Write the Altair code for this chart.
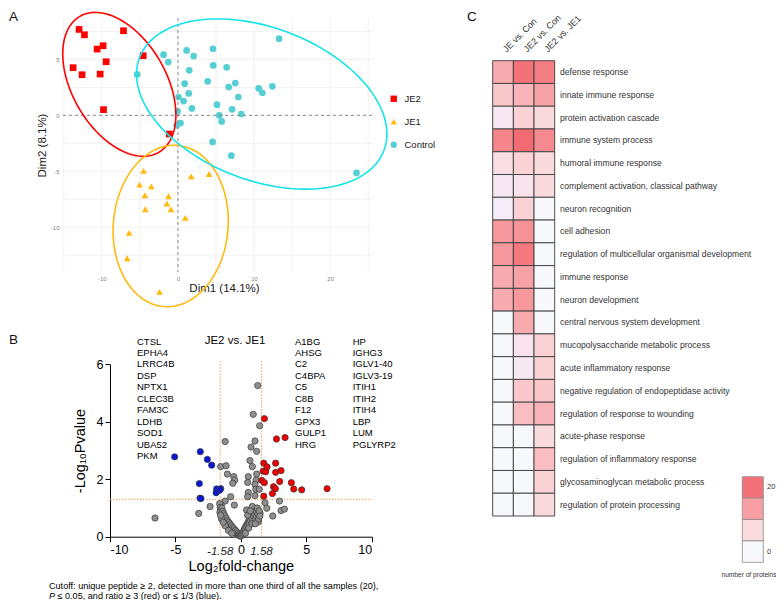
import numpy as np
import pandas as pd
import altair as alt

FONT = "Liberation Sans"

# ---------------- Panel A : PCA scores ----------------
groups = ["JE2", "JE1", "Control"]
group_colors = ["#FF0000", "#FFB90F", "#55CFD4"]
ellipse_colors = ["#FF0000", "#FFB90F", "#14E3EA"]
group_shapes = ["square", "triangle-up", "circle"]

je2_x = [-12.99, -12.28, -7.15, -10.62, -9.83, -9.43, -13.77, -12.59, -10.22, -4.56, -9.78, -1.14]
je2_y = [7.68, 7.20, 7.56, 5.92, 6.22, 4.79, 4.26, 3.63, 3.69, 5.33, 0.51, -1.67]

je1_x = [-4.51, -5.04, -3.51, -4.34, -1.23, -1.45, -0.92, -4.30, 1.75, 4.08, 0.96, -6.41, -6.67, -2.41]
je1_y = [-4.97, -6.19, -6.34, -7.14, -7.23, -7.88, -8.39, -8.39, -5.45, -5.24, -9.17, -10.51, -12.77, -15.77]

con_x = [13.29, -1.89, -1.27, 1.14, 2.07, 4.61, 1.49, 4.65, 6.40, -5.35, 0.88, 3.91, 6.67, 7.54,
         10.61, 11.10, 12.41, 1.41, 0.09, 0.75, 7.94, 5.13, 1.84, 7.11, 8.33, -0.04, 5.43, 5.75,
         0.35, -0.17, 4.56, 7.02, 23.46]
con_y = [6.85, 5.42, 4.76, 5.80, 5.30, 5.95, 4.02, 4.46, 4.29, 3.66, 2.83, 3.04, 2.53, 2.89,
         2.41, 2.02, 2.59, 1.96, 1.64, 1.28, 1.64, 0.95, 0.62, 0.54, 0.12, 0.36, 0.00, -0.54,
         -0.69, -0.89, -2.38, -3.60, -5.15]

# concentration ellipses: centre and two conjugate half-axes (data units)
ell_cx = [-7.70, -0.95, 11.01]
ell_cy = [2.77, -9.89, 1.01]
ell_ux = [5.17, 0.93, 16.05]
ell_uy = [-6.08, 7.20, -4.16]
ell_vx = [-5.34, 7.51, -3.59]
ell_vy = [-2.09, -0.45, -6.37]

gridA_x = [-15, -10, -5, 0, 5, 10, 15, 20, 25]
gridA_y = [-12.5, -10, -7.5, -5, -2.5, 0, 2.5, 5, 7.5]

# ---------------- Panel B : volcano ----------------
down_x = [-5.06, -3.10, -2.56, -2.23, -3.17, -3.12, -3.05, -1.85, -1.54, -1.89, -1.62]
down_y = [2.78, 2.96, 2.69, 2.49, 1.85, 1.34, 1.33, 1.66, 1.67, 1.53, 1.62]

up_x = [1.80, 2.72, 3.38, 1.75, 2.00, 2.66, 1.70, 1.90, 2.66, 3.07, 1.60, 1.80, 2.97, 3.86,
        2.49, 2.64, 4.04, 4.65, 6.59, 2.41, 1.75]
up_y = [4.11, 3.40, 3.45, 2.56, 2.43, 2.56, 2.28, 2.26, 2.24, 2.30, 1.96, 1.88, 1.92, 1.88,
        1.74, 1.67, 1.66, 1.63, 1.67, 1.50, 1.41]

ns_x = [-6.56, -3.22, -2.35, -1.20, -1.54, -1.13, -1.03, -0.54, -0.47, -0.62, -0.78, -1.20,
        -0.50, -1.50, 1.29, 0.95, 1.44, 0.78, 1.08, 1.21, 0.70, 0.88, 1.21, 0.57, 0.52, 1.16,
        1.08, 1.14, 1.41, 0.57, 1.08, 0.52, 1.85, 1.98, 2.44, 2.95, 3.07, 3.33, 0.44, 0.88,
        1.47, 1.34,
        -1.62, -1.58, -1.52, -1.60, -1.45, -1.42, -1.38, -1.35, -1.30, -1.25, -1.22, -1.18,
        -1.12, -1.08, -1.02, -0.98, -0.92, -0.88, -0.82, -0.78, -0.72, -0.68, -0.62, -0.58,
        -0.52, -0.48, -0.42, -0.38, -0.32, -0.28, -0.22, -0.18, -0.12, -0.08, -0.04, -1.48,
        -1.20, -0.95, -0.70, -1.55, -1.35,
        0.04, 0.10, 0.16, 0.20, 0.26, 0.30, 0.35, 0.40, 0.45, 0.50, 0.55, 0.60, 0.65, 0.70,
        0.75, 0.80, 0.85, 0.90, 0.95, 1.00, 1.05, 1.10, 1.15, 1.20, 1.25, 1.30, 1.35, 1.40,
        0.60, 0.85, 1.10, 0.35, 1.45, 0.52, 0.72]
ns_y = [0.65, 0.81, 1.05, 3.31, 2.44, 2.47, 2.18, 2.09, 1.97, 1.86, 1.39, 1.24,
        1.10, 1.10, 5.26, 4.26, 3.86, 3.12, 3.33, 2.97, 2.65, 2.44, 2.18, 2.09, 1.89, 1.97,
        1.82, 1.65, 1.65, 1.54, 1.43, 1.39, 1.18, 0.99, 0.72, 1.24, 0.91, 0.96, 0.93, 1.05,
        0.81, 0.52,
        1.15, 1.02, 0.92, 0.85, 1.00, 0.78, 0.88, 0.68, 0.80, 0.60, 0.72, 0.52,
        0.64, 0.46, 0.56, 0.40, 0.50, 0.34, 0.44, 0.30, 0.38, 0.25, 0.32, 0.20,
        0.27, 0.16, 0.22, 0.12, 0.17, 0.09, 0.12, 0.06, 0.07, 0.03, 0.02, 0.62,
        0.38, 0.22, 0.12, 0.75, 0.50,
        0.03, 0.08, 0.12, 0.18, 0.22, 0.30, 0.26, 0.38, 0.33, 0.46, 0.40, 0.55, 0.48, 0.62,
        0.56, 0.70, 0.64, 0.78, 0.72, 0.86, 0.80, 0.60, 0.90, 0.70, 1.00, 0.80, 0.62, 0.90,
        0.30, 0.45, 0.45, 0.12, 0.72, 0.75, 0.90]

fc_cut = [-1.58, 1.58]
fc_cut_labels = ["-1.58", "1.58"]
p_cut = 0.05

genes_down = ["CTSL", "EPHA4", "LRRC4B", "DSP", "NPTX1", "CLEC3B", "FAM3C", "LDHB", "SOD1", "UBA52", "PKM"]
genes_up_1 = ["A1BG", "AHSG", "C2", "C4BPA", "C5", "C8B", "F12", "GPX3", "GULP1", "HRG"]
genes_up_2 = ["HP", "IGHG3", "IGLV1-40", "IGLV3-19", "ITIH1", "ITIH2", "ITIH4", "LBP", "LUM", "PGLYRP2"]

# ---------------- Panel C : GO heatmap ----------------
go_terms = [
    "defense response", "innate immune response", "protein activation cascade",
    "immune system process", "humoral immune response",
    "complement activation, classical pathway", "neuron recognition", "cell adhesion",
    "regulation of multicellular organismal development", "immune response",
    "neuron development", "central nervous system development",
    "mucopolysaccharide metabolic process", "acute inflammatory response",
    "negative regulation of endopeptidase activity", "regulation of response to wounding",
    "acute-phase response", "regulation of inflammatory response",
    "glycosaminoglycan metabolic process", "regulation of protein processing"]
comparisons = ["JE vs. Con", "JE2 vs. Con", "JE2 vs. JE1"]
n_je_con = [12, 9, 4, 17, 6, 4, 3, 14, 14, 12, 12, 0, 0, 0, 0, 0, 0, 0, 0, 0]
n_je2_con = [20, 11, 8, 21, 8, 5, 8, 15, 19, 13, 14, 12, 5, 4, 9, 10, 0, 0, 0, 0]
n_je2_je1 = [18, 13, 7, 16, 7, 7, 0, 0, 0, 0, 0, 0, 8, 8, 9, 11, 7, 10, 8, 7]
legend_vals = [20, 13.3, 6.7, 0]
legend_labels = ["20", "", "", "0"]
heat_stops = [0, 7, 14, 21]
heat_colors = ["#F7F8FB", "#FADADD", "#F6989C", "#F26A72"]

# ================= build tables =================
pts = pd.DataFrame({
    "x": je2_x + je1_x + con_x,
    "y": je2_y + je1_y + con_y,
    "group": ["JE2"] * len(je2_x) + ["JE1"] * len(je1_x) + ["Control"] * len(con_x),
})

t = np.linspace(0, 2 * np.pi, 181)
ell_parts = []
for i, g in enumerate(groups):
    ell_parts.append(pd.DataFrame({
        "ex": ell_cx[i] + ell_ux[i] * np.cos(t) + ell_vx[i] * np.sin(t),
        "ey": ell_cy[i] + ell_uy[i] * np.cos(t) + ell_vy[i] * np.sin(t),
        "i": np.arange(len(t)),
        "g": g,
        "col": ellipse_colors[i],
    }))
ell = pd.concat(ell_parts, ignore_index=True)

vol_ns = pd.DataFrame({"x": ns_x, "y": ns_y})
vol_up = pd.DataFrame({"x": up_x, "y": up_y})
vol_down = pd.DataFrame({"x": down_x, "y": down_y})

heat = pd.DataFrame({
    "term": go_terms * 3,
    "comp": [comparisons[0]] * 20 + [comparisons[1]] * 20 + [comparisons[2]] * 20,
    "n": n_je_con + n_je2_con + n_je2_je1,
})

# ================= scales =================
def sA_x():
    return alt.Scale(domain=[-15.1, 25.5], range=[55, 364], nice=False, zero=False)
def sA_y():
    return alt.Scale(domain=[-14.0, 8.7], range=[264, 10], nice=False, zero=False)
def sB_x():
    return alt.Scale(domain=[-10, 10], range=[102, 363.7], nice=False, zero=False)
def sB_y():
    return alt.Scale(domain=[0, 6], range=[528.7, 356.3], nice=False, zero=False)
def sC_x():
    return alt.Scale(domain=comparisons, range=[484.7, 546.7], paddingInner=0, paddingOuter=0)
def sC_y():
    return alt.Scale(domain=go_terms, range=[52.7, 508], paddingInner=0, paddingOuter=0)
def s_heat():
    return alt.Scale(domain=heat_stops, range=heat_colors, clamp=True)

# ================= Panel A =================
axA_x = alt.Axis(orient="bottom", offset=-328, values=gridA_x,
                 labelExpr="datum.value % 10 == 0 ? replace(datum.label, '\u2212', '-') : ''",
                 domain=False, ticks=False, grid=False,
                 labelColor="#7F7F7F", labelFontSize=6, labelPadding=3,
                 title="Dim1 (14.1%)", titleFontSize=11.5, titleFontWeight="normal",
                 titleColor="#1A1A1A", titlePadding=1, titleX=216)
axA_y = alt.Axis(orient="left", offset=-55, values=gridA_y,
                 labelExpr="datum.value % 5 == 0 ? replace(datum.label, '\u2212', '-') : ''",
                 domain=False, ticks=False, grid=False,
                 labelColor="#7F7F7F", labelFontSize=6, labelPadding=4,
                 title="Dim2 (8.1%)", titleFontSize=11.5, titleFontWeight="normal",
                 titleColor="#1A1A1A", titlePadding=3)

legA = alt.Legend(orient="none", legendX=381, legendY=86, title=None, labelFontSize=9.5,
                  labelColor="#1A1A1A", symbolSize=40, rowPadding=12, padding=0,
                  symbolStrokeWidth=0, labelOffset=6)

gridVx = alt.Chart(pd.DataFrame({"v": gridA_x})).mark_rule(color="#EBEBEB", strokeWidth=0.7).encode(
    x=alt.X("v:Q", scale=sA_x(), axis=None), y=alt.value(10), y2=alt.value(264))
gridHy = alt.Chart(pd.DataFrame({"v": gridA_y})).mark_rule(color="#EBEBEB", strokeWidth=0.7).encode(
    y=alt.Y("v:Q", scale=sA_y(), axis=None), x=alt.value(55), x2=alt.value(364))
pointsA = alt.Chart(pts).mark_point(filled=True, size=45, opacity=1).encode(
    x=alt.X("x:Q", scale=sA_x(), axis=axA_x),
    y=alt.Y("y:Q", scale=sA_y(), axis=axA_y),
    color=alt.Color("group:N", scale=alt.Scale(domain=groups, range=group_colors), legend=legA),
    shape=alt.Shape("group:N", scale=alt.Scale(domain=groups, range=group_shapes), legend=legA),
)
zeroV = alt.Chart(pd.DataFrame({"v": [0]})).mark_rule(color="#8C8C8C", strokeDash=[3, 3], strokeWidth=1).encode(
    x=alt.X("v:Q", scale=sA_x(), axis=None), y=alt.value(10), y2=alt.value(264))
zeroH = alt.Chart(pd.DataFrame({"v": [0]})).mark_rule(color="#8C8C8C", strokeDash=[3, 3], strokeWidth=1).encode(
    y=alt.Y("v:Q", scale=sA_y(), axis=None), x=alt.value(55), x2=alt.value(364))
ellA = alt.Chart(ell).mark_line(strokeWidth=1.6).encode(
    x=alt.X("ex:Q", scale=sA_x(), axis=None),
    y=alt.Y("ey:Q", scale=sA_y(), axis=None),
    detail="g:N", order="i:Q",
    stroke=alt.Stroke("col:N", scale=None))

# ================= Panel B =================
axB_x = alt.Axis(orient="bottom", offset=-63.3, values=[-10, -5, 0, 5, 10], grid=False,
                 domainColor="black", domainWidth=1, tickColor="black", tickSize=5, tickWidth=1,
                 labelColor="black", labelFontSize=12.5, labelPadding=2,
                 labelExpr="replace(datum.label, '\u2212', '-')",
                 title="Log\u2082fold-change", titleFontSize=14.5, titleFontWeight="normal",
                 titleColor="black", titlePadding=3)
axB_y = alt.Axis(orient="left", offset=-102, values=[0, 2, 4, 6], grid=False,
                 domainColor="black", domainWidth=1, tickColor="black", tickSize=5, tickWidth=1,
                 labelColor="black", labelFontSize=12.5, labelPadding=2,
                 title="-Log\u2081\u2080Pvalue", titleFontSize=14.5, titleFontWeight="normal",
                 titleColor="black", titlePadding=9)

thrV = alt.Chart(pd.DataFrame({"v": fc_cut})).mark_rule(color="#F4A15D", strokeDash=[1.5, 1.5], strokeWidth=1).encode(
    x=alt.X("v:Q", scale=sB_x(), axis=None), y=alt.value(528.7), y2=alt.value(353.5))
thrH = alt.Chart(pd.DataFrame({"v": [-np.log10(p_cut)]})).mark_rule(color="#F4A15D", strokeDash=[1.5, 1.5], strokeWidth=1).encode(
    y=alt.Y("v:Q", scale=sB_y(), axis=None), x=alt.value(102), x2=alt.value(363.7))
nsB = alt.Chart(vol_ns).mark_circle(size=40, opacity=1, stroke="#3A3A3A", strokeWidth=0.7).encode(
    x=alt.X("x:Q", scale=sB_x(), axis=axB_x), y=alt.Y("y:Q", scale=sB_y(), axis=axB_y),
    color=alt.value("#8E8E8E"))
downB = alt.Chart(vol_down).mark_circle(size=40, opacity=1, stroke="#3A3A3A", strokeWidth=0.7).encode(
    x=alt.X("x:Q", scale=sB_x(), axis=None), y=alt.Y("y:Q", scale=sB_y(), axis=None),
    color=alt.value("#0A18D6"))
upB = alt.Chart(vol_up).mark_circle(size=40, opacity=1, stroke="#3A3A3A", strokeWidth=0.7).encode(
    x=alt.X("x:Q", scale=sB_x(), axis=None), y=alt.Y("y:Q", scale=sB_y(), axis=None),
    color=alt.value("#F00000"))
thrLab = alt.Chart(pd.DataFrame({"v": fc_cut, "lab": fc_cut_labels})).mark_text(
    fontStyle="italic", fontSize=11.5, baseline="middle", color="#1A1A1A").encode(
    x=alt.X("v:Q", scale=sB_x(), axis=None), y=alt.value(544), text="lab:N")

# ================= Panel C =================
cells = alt.Chart(heat).mark_rect(stroke="#3C3C3C", strokeWidth=0.9).encode(
    x=alt.X("comp:N", scale=sC_x(), axis=None),
    y=alt.Y("term:N", scale=sC_y(), axis=None),
    color=alt.Color("n:Q", scale=s_heat(), legend=None))
rowLab = alt.Chart(pd.DataFrame({"term": go_terms})).mark_text(
    align="left", baseline="middle", fontSize=8.6, color="#333333").encode(
    y=alt.Y("term:N", scale=sC_y(), axis=None), x=alt.value(552), text="term:N")
colLab = alt.Chart(pd.DataFrame({"comp": comparisons})).mark_text(
    align="left", baseline="middle", fontSize=9, angle=315, color="#333333", dx=2).encode(
    x=alt.X("comp:N", scale=sC_x(), axis=None), y=alt.value(44), text="comp:N")

legC_df = pd.DataFrame({"v": legend_vals, "lab": legend_labels, "k": ["a", "b", "c", "d"]})
def s_leg():
    return alt.Scale(domain=["a", "b", "c", "d"], range=[468.7, 554.3], paddingInner=0, paddingOuter=0)
legRect = alt.Chart(legC_df).mark_rect(stroke="#8A8A8A", strokeWidth=0.8).encode(
    y=alt.Y("k:N", scale=s_leg(), axis=None), x=alt.value(734.3), x2=alt.value(755.3),
    color=alt.Color("v:Q", scale=s_heat(), legend=None))
legText = alt.Chart(legC_df).mark_text(align="left", baseline="middle", fontSize=7.5, color="#333333").encode(
    y=alt.Y("k:N", scale=s_leg(), axis=None), x=alt.value(759), text="lab:N")

# ================= free text =================
def label(txt, x, y, size, **kw):
    return alt.Chart(pd.DataFrame({"t": [txt]})).mark_text(fontSize=size, **kw).encode(
        x=alt.value(x), y=alt.value(y), text="t:N")

texts = [
    label("A", 1, 2, 13.5, align="left", baseline="top", color="#111111"),
    label("B", 1, 332, 13.5, align="left", baseline="middle", color="#111111"),
    label("C", 459, 2, 13.5, align="left", baseline="top", color="#111111"),
    label("JE2 vs. JE1", 227, 333, 11.5, align="center", baseline="middle", color="black"),
    label("\n".join(genes_down), 129, 328.5, 9.5, align="left", baseline="top", lineBreak="\n", lineHeight=11.45, color="black"),
    label("\n".join(genes_up_1), 287, 328.5, 9.5, align="left", baseline="top", lineBreak="\n", lineHeight=11.45, color="black"),
    label("\n".join(genes_up_2), 344.7, 328.5, 9.5, align="left", baseline="top", lineBreak="\n", lineHeight=11.45, color="black"),
    label("Cutoff: unique peptide \u2265 2, detected in more than one third of all the samples (20),",
          41, 578, 9.1, align="left", baseline="middle", color="black"),
    label("P", 41, 587.8, 9.1, align="left", baseline="middle", fontStyle="italic", color="black"),
    label("\u2264 0.05, and ratio \u2265 3 (red) or \u2264 1/3 (blue).", 49.5, 587.8, 9.1,
          align="left", baseline="middle", color="black"),
    label("number of proteins", 741, 567, 6.6, align="center", baseline="middle", color="#333333"),
]

layers = [gridVx, gridHy, pointsA, zeroV, zeroH, ellA,
          thrV, thrH, nsB, downB, upB, thrLab,
          cells, rowLab, colLab, legRect, legText] + texts

chart = alt.layer(*layers).resolve_scale(
    x="independent", y="independent", color="independent", shape="independent"
).properties(
    width=768, height=592, padding=0, autosize=alt.AutoSizeParams(type="none")
).configure(font=FONT).configure_view(stroke=None)

chart.save("out.html", embed_options={"renderer": "svg", "actions": False})
